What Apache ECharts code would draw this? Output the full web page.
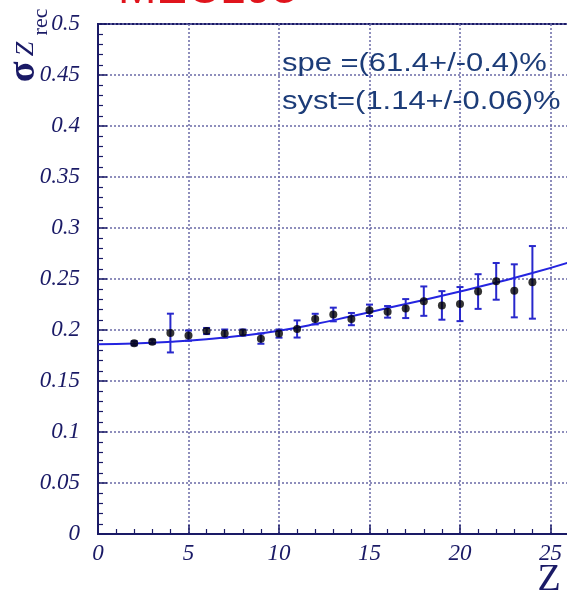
<!DOCTYPE html>
<html>
<head>
<meta charset="utf-8">
<script src="https://cdn.jsdelivr.net/npm/echarts@6/dist/echarts.min.js"></script>
<style>
  html, body { margin: 0; padding: 0; background: #ffffff; }
  #chart { width: 567px; height: 594px; }
</style>
</head>
<body>
<div id="chart"></div>
<script>
// Measured resolution of the reconstructed Z versus Z
const zValues = [2, 3, 4, 5, 6, 7, 8, 9, 10, 11, 12, 13, 14, 15, 16, 17, 18, 19, 20, 21, 22, 23, 24];
const sigmaValues = [0.187, 0.1885, 0.197, 0.1945, 0.199, 0.1965, 0.1975, 0.1915, 0.1965, 0.201, 0.2107,
  0.2152, 0.2107, 0.2193, 0.2178, 0.221, 0.2283, 0.2241, 0.2254, 0.2377, 0.2477, 0.2384, 0.2467];
const sigmaErrors = [0.002, 0.002, 0.019, 0.005, 0.003, 0.004, 0.003, 0.005, 0.004, 0.0084, 0.0052,
  0.0067, 0.006, 0.0056, 0.0057, 0.0093, 0.0144, 0.014, 0.0167, 0.017, 0.018, 0.026, 0.0356];

// Fitted resolution curve
const fitZ = [0, 2, 4, 6, 8, 10, 12, 14, 16, 18, 20, 22, 24, 26];
const fitSigma = [0.186, 0.1868, 0.1885, 0.191, 0.1945, 0.1993, 0.2058, 0.2135, 0.2215, 0.2295,
  0.2378, 0.2465, 0.2558, 0.2662];

// Fit parameters printed on the plot
const fitText = ['spe =(61.4+/-0.4)%', 'syst=(1.14+/-0.06)%'];
const titleText = 'MEC193';

const navy = '#1a1a66';
const labelFont = { fontFamily: 'Liberation Serif', fontStyle: 'italic', fontSize: 23, color: navy };
const gridDots = { show: true, lineStyle: { color: '#6a6aa6', width: 1.5, type: [2, 2] } };

const points = zValues.map((z, i) => [z, sigmaValues[i]]);
const bars = zValues.map((z, i) => [z, sigmaValues[i] - sigmaErrors[i], sigmaValues[i] + sigmaErrors[i]]);
const fitLine = fitZ.map((z, i) => [z, fitSigma[i]]);

const chart = echarts.init(document.getElementById('chart'), null, { renderer: 'canvas' });

chart.setOption({
  animation: false,
  backgroundColor: '#ffffff',
  grid: {
    left: 98, top: 24, bottom: 60, right: -74,
    containLabel: false,
    outerBoundsMode: 'none',
    show: true, borderColor: navy, borderWidth: 2, backgroundColor: 'transparent'
  },
  xAxis: {
    type: 'value', min: 0, max: 30, interval: 5,
    axisLine: { show: true, onZero: false, lineStyle: { color: navy, width: 2 } },
    axisTick: { show: true, inside: true, length: 9, lineStyle: { color: navy, width: 1.5 } },
    minorTick: { show: true, splitNumber: 5, length: 5, lineStyle: { color: navy, width: 1.2 } },
    axisLabel: Object.assign({ margin: 8, showMinLabel: true }, labelFont),
    splitLine: gridDots
  },
  yAxis: {
    type: 'value', min: 0, max: 0.5, interval: 0.05,
    axisLine: { show: true, onZero: false, lineStyle: { color: navy, width: 2 } },
    axisTick: { show: true, inside: true, length: 9, lineStyle: { color: navy, width: 1.5 } },
    minorTick: { show: true, splitNumber: 5, length: 5, lineStyle: { color: navy, width: 1.2 } },
    axisLabel: Object.assign({
      margin: 18,
      formatter: v => String(Math.round(v * 100) / 100)
    }, labelFont),
    splitLine: gridDots
  },
  series: [
    {
      type: 'custom',
      data: bars,
      z: 2,
      renderItem: function (params, api) {
        const x = api.value(0);
        const lo = api.coord([x, api.value(1)]);
        const hi = api.coord([x, api.value(2)]);
        const cap = 3.5;
        const style = { stroke: '#2828cc', lineWidth: 2 };
        return {
          type: 'group',
          children: [
            { type: 'line', shape: { x1: lo[0], y1: lo[1], x2: hi[0], y2: hi[1] }, style: style },
            { type: 'line', shape: { x1: lo[0] - cap, y1: lo[1], x2: lo[0] + cap, y2: lo[1] }, style: style },
            { type: 'line', shape: { x1: hi[0] - cap, y1: hi[1], x2: hi[0] + cap, y2: hi[1] }, style: style }
          ]
        };
      }
    },
    {
      type: 'line',
      data: fitLine,
      smooth: true,
      symbol: 'none',
      z: 3,
      lineStyle: { color: '#2424e0', width: 2 }
    },
    {
      type: 'scatter',
      data: points,
      symbol: 'circle',
      symbolSize: 8,
      z: 4,
      itemStyle: { color: '#000000' }
    }
  ],
  graphic: [
    {
      type: 'text', x: 118, y: -10, z: 10,
      style: {
        text: titleText, fill: '#e0141c',
        font: '46px "Liberation Sans"', textAlign: 'left', textVerticalAlign: 'middle'
      }
    },
    {
      type: 'text', x: 282, y: 64, scaleX: 1.19, z: 10,
      style: {
        text: fitText[0], fill: '#1c3c78',
        font: '26px "Liberation Sans"', textAlign: 'left', textVerticalAlign: 'middle'
      }
    },
    {
      type: 'text', x: 282, y: 102, scaleX: 1.19, z: 10,
      style: {
        text: fitText[1], fill: '#1c3c78',
        font: '26px "Liberation Sans"', textAlign: 'left', textVerticalAlign: 'middle'
      }
    },
    // Y axis title: sigma of Z_rec, reading upward
    {
      type: 'text', x: 24, y: 72, rotation: Math.PI / 2, z: 10,
      style: {
        text: 'σ', fill: navy,
        font: 'bold 38px "Liberation Serif"', textAlign: 'center', textVerticalAlign: 'middle'
      }
    },
    {
      type: 'text', x: 26, y: 49, rotation: Math.PI / 2, z: 10,
      style: {
        text: 'Z', fill: navy,
        font: 'italic 26px "Liberation Serif"', textAlign: 'center', textVerticalAlign: 'middle'
      }
    },
    {
      type: 'text', x: 41, y: 22, rotation: Math.PI / 2, z: 10,
      style: {
        text: 'rec', fill: navy,
        font: '22px "Liberation Serif"', textAlign: 'center', textVerticalAlign: 'middle'
      }
    },
    // X axis title
    {
      type: 'text', x: 549, y: 580, z: 10,
      style: {
        text: 'Z', fill: navy,
        font: '38px "Liberation Serif"', textAlign: 'center', textVerticalAlign: 'middle'
      }
    }
  ]
});
</script>
</body>
</html>
